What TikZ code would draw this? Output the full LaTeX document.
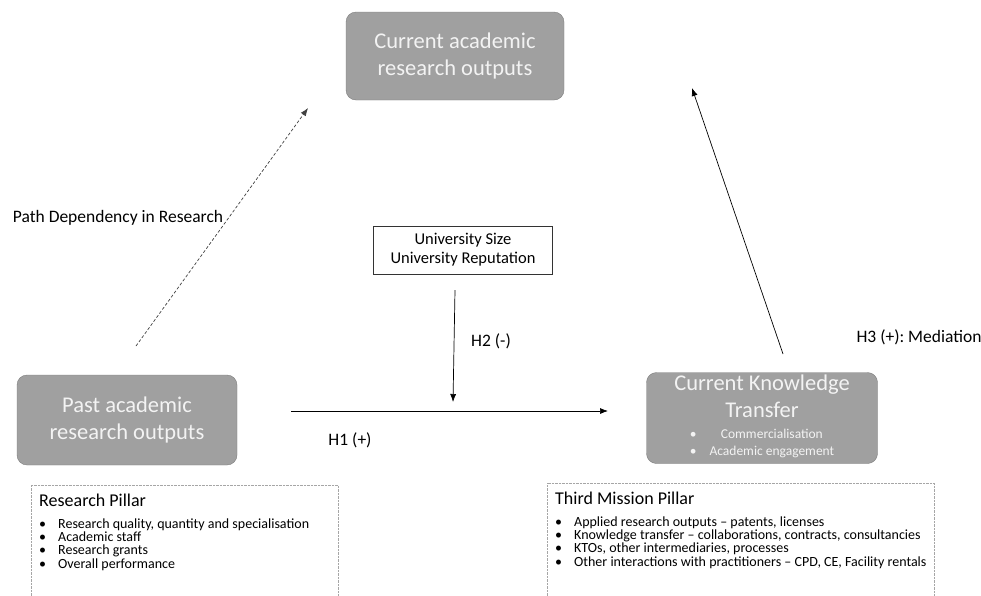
\documentclass[tikz,border=0pt]{standalone}
\usepackage{fontspec}
\setmainfont{Carlito}
\usetikzlibrary{arrows.meta}
\frenchspacing

\definecolor{boxgray}{RGB}{160,160,160}
\definecolor{boxedge}{RGB}{125,125,125}
\definecolor{boxtext}{RGB}{243,243,243}

\tikzset{
  mainbox/.style={draw=boxedge, fill=boxgray, rounded corners=10pt, text=boxtext, align=center, font=\fontsize{22.5}{27}\selectfont},
  modbox/.style={draw=black!80, line width=0.7pt, fill=white, align=center, font=\fontsize{16.5}{19}\selectfont, minimum width=179pt, minimum height=48pt},
  pillar/.style={draw=gray!70, densely dotted},
  pillartext/.style={anchor=north west, align=left, inner sep=0pt, font=\fontsize{14}{13.4}\selectfont},
  hyp/.style={inner sep=0pt, font=\fontsize{17.5}{20}\selectfont},
  hypline/.style={line width=0.7pt, -{Latex[length=8pt,width=6pt]}}
}

\begin{document}
\begin{tikzpicture}[x=1pt,y=-1pt]
    \useasboundingbox (0,0) rectangle (981,595);

    % Draw the three constructs
    \node[mainbox, minimum width=218pt, minimum height=88pt] (current) at (455,56) {Current academic\\research outputs};
    \node[mainbox, minimum width=220pt, minimum height=90pt] (past) at (127,420) {Past academic\\research outputs};
    \node[mainbox, minimum width=231pt, minimum height=91pt, inner sep=1pt] (kt) at (762,418) {Current Knowledge\\Transfer\\[3pt]
        {\fontsize{13.5}{17}\selectfont\begin{tabular}{@{}c@{\hspace{13pt}}c@{}}\textbullet & Commercialisation\\ \textbullet & Academic engagement\end{tabular}}};

    % Draw moderator box
    \node[modbox] (size) at (463,250) {University Size\\University Reputation};

    % Draw pillar boxes (cut off at the bottom)
    \draw[pillar] (31,600) |- (338,485) -- (338,600);
    \draw[pillar] (547,600) |- (934,483) -- (934,600);
    \node[pillartext] (research) at (39,494) {{\fontsize{18}{20}\selectfont Research Pillar}\\[8pt]
        \textbullet\hspace{12pt}Research quality, quantity and specialisation\\
        \textbullet\hspace{12pt}Academic staff\\
        \textbullet\hspace{12pt}Research grants\\
        \textbullet\hspace{12pt}Overall performance};
    \node[pillartext] (third) at (555,492) {{\fontsize{18}{20}\selectfont Third Mission Pillar}\\[8pt]
        \textbullet\hspace{12pt}Applied research outputs -- patents, licenses\\
        \textbullet\hspace{12pt}Knowledge transfer -- collaborations, contracts, consultancies\\
        \textbullet\hspace{12pt}KTOs, other intermediaries, processes\\
        \textbullet\hspace{12pt}Other interactions with practitioners -- CPD, CE, Facility rentals};

    % Draw paths
    \coordinate (pdstart) at (136,346);
    \coordinate (pdend) at (308,108);
    \coordinate (h1start) at (291,411);
    \coordinate (h1end) at (608,411);
    \coordinate (h2start) at (455,290);
    \coordinate (h2end) at (453,402);
    \coordinate (h3start) at (783,354);
    \coordinate (h3end) at (692,88);
    % path dependency
    \draw[hypline, gray!50!black, dash pattern=on 3pt off 2pt] (pdstart) -- (pdend);
    % H1
    \draw[hypline] (h1start) -- (h1end);
    % H2
    \draw[hypline] (h2start) -- (h2end);
    % H3
    \draw[hypline] (h3start) -- (h3end);

    % Draw labels
    \node[hyp] (pathlbl) at (118,218) {Path Dependency in Research};
    \node[hyp] (h1lbl) at (350,440) {H1 (+)};
    \node[hyp] (h2lbl) at (491,341) {H2 (-)};
    \node[hyp] (h3lbl) at (919,337) {H3 (+): Mediation};
\end{tikzpicture}
\end{document}
